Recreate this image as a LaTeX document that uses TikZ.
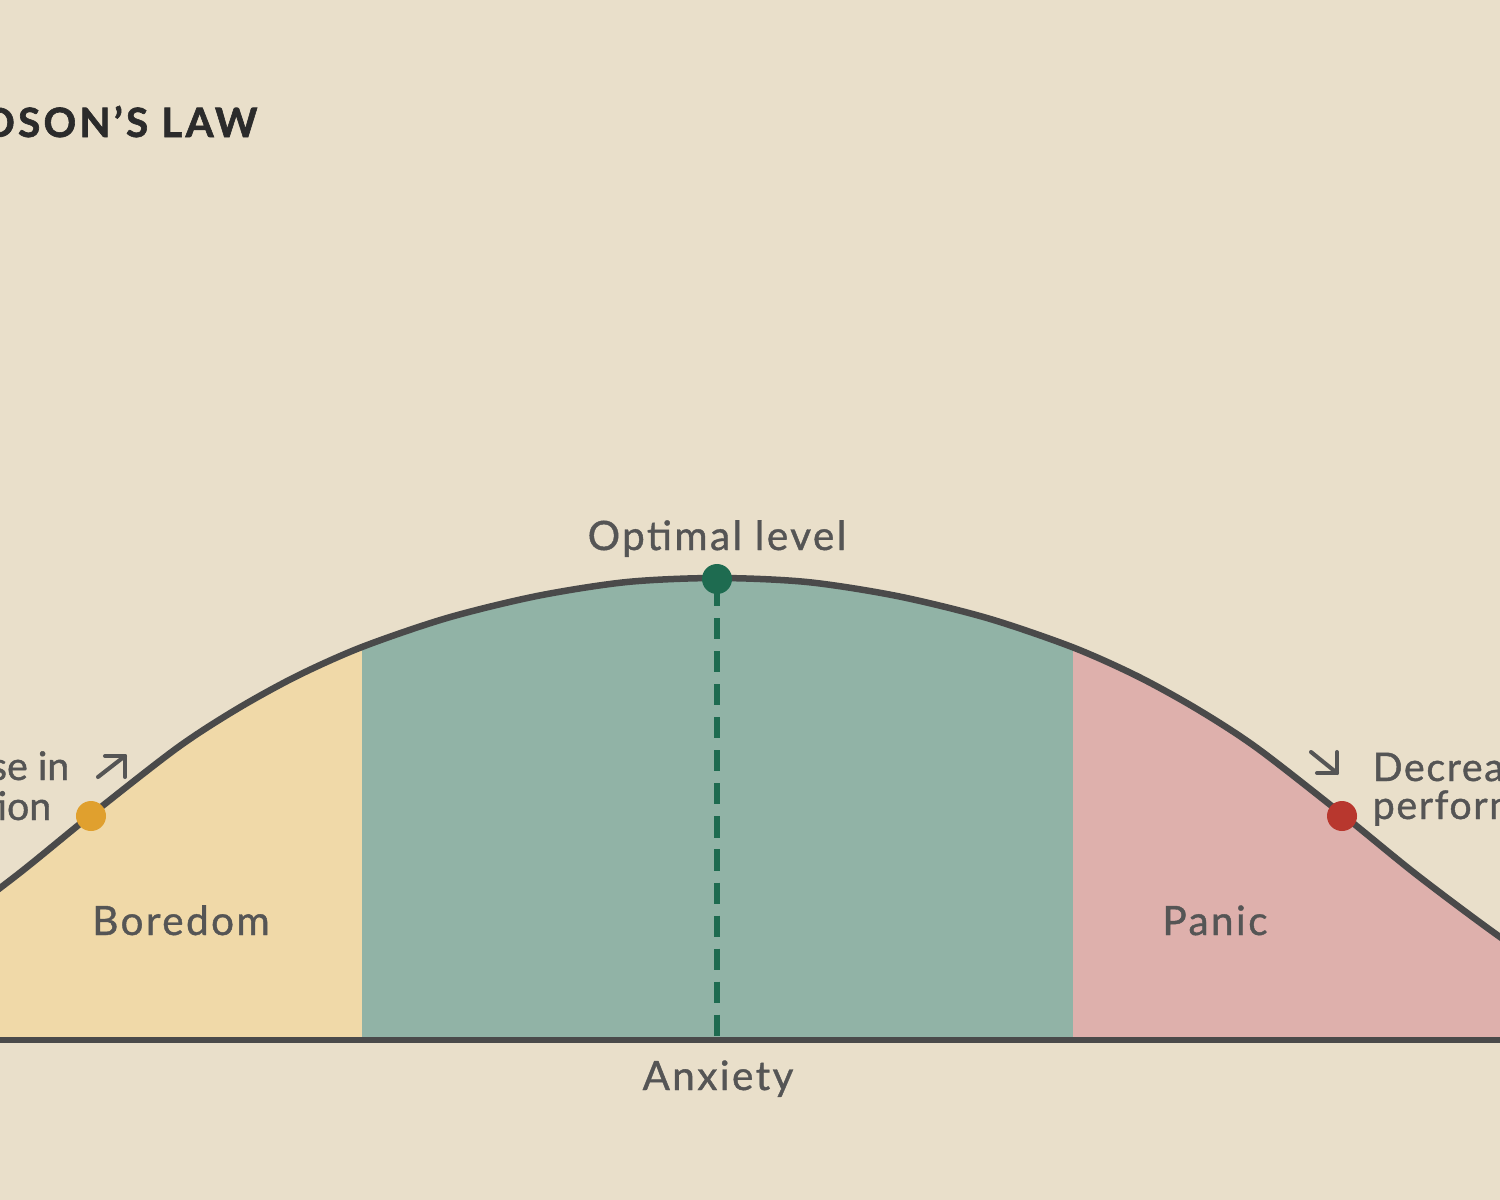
\documentclass[tikz,border=0pt]{standalone}
\usepackage{fontspec}
\setmainfont{Lato}
\newfontfamily\lblfont[LetterSpace=6, FakeBold=1]{Lato}
\newfontfamily\notefont[FakeBold=1]{Lato}
\newfontfamily\notewidefont[LetterSpace=4, FakeBold=1]{Lato}
\newfontfamily\headfont[LetterSpace=8, FakeBold=1.5]{Lato Bold}
\usetikzlibrary{positioning}

\definecolor{paper}{HTML}{E9DFCA}
\definecolor{boredfill}{HTML}{F0D9A8}
\definecolor{optfill}{HTML}{91B3A6}
\definecolor{panicfill}{HTML}{DEB0AC}
\definecolor{curvegray}{HTML}{4A4A4A}
\definecolor{lblgray}{HTML}{555555}
\definecolor{titleink}{HTML}{2B2B2B}
\definecolor{dotyellow}{HTML}{E0A02E}
\definecolor{dotred}{HTML}{B8372E}
\definecolor{dotgreen}{HTML}{1E6B50}

% performance curve, in pixel units
\tikzset{
  bellline/.style={insert path={plot[smooth] coordinates {(-143,989) (-66,937) (17,875)
    (91,815) (177,748) (237,709) (297,676) (362,647) (447,618) (537,596)
    (627,582) (717,578) (807,582) (897,596) (987,618) (1072,647) (1137,676)
    (1197,709) (1257,748) (1343,815) (1417,875) (1500,937) (1577,989)}}},
  bellarea/.style={insert path={plot[smooth] coordinates {(-200,1040) (-143,989) (-66,937) (17,875)
    (91,815) (177,748) (237,709) (297,676) (362,647) (447,618) (537,596)
    (627,582) (717,578) (807,582) (897,596) (987,618) (1072,647) (1137,676)
    (1197,709) (1257,748) (1343,815) (1417,875) (1500,937) (1577,989) (1640,1040)} -- cycle}}
}

\begin{document}
\begin{tikzpicture}[x=0.01cm, y=-0.01cm,
  curveline/.style={line width=1.85pt, draw=curvegray, line join=round},
  lbl/.style={font=\lblfont\fontsize{11.5}{14}\selectfont, text=lblgray,
              inner sep=0pt, anchor=base},
  note/.style={font=\notefont\fontsize{11.2}{14}\selectfont, text=lblgray,
               inner sep=0pt},
  dot/.style={circle, fill=#1, minimum size=0.3cm, inner sep=0pt},
  glyph/.style={line width=1.15pt, draw=lblgray, line cap=round, line join=round}
]
\fill[paper] (0,0) rectangle (1500,1200);
\clip (0,0) rectangle (1500,1200);

% zones under the curve
\begin{scope}
  \clip (-200,0) rectangle (362,1040);
  \fill[boredfill, bellarea];
\end{scope}
\begin{scope}
  \clip (362,0) rectangle (1073,1040);
  \fill[optfill, bellarea];
\end{scope}
\begin{scope}
  \clip (1073,0) rectangle (1700,1040);
  \fill[panicfill, bellarea];
\end{scope}

\draw[curveline, bellline];
\draw[curveline] (-20,1040) -- (1520,1040);

\node[dot=dotgreen] (peak) at (717,579) {};
\node[dot=dotyellow] (rise) at (91,816) {};
\node[dot=dotred] (fall) at (1342,816) {};
\coordinate (stemtop) at (717,585);
\coordinate (peakfoot) at (717,1037);
\draw[dotgreen, line width=1.9pt, dash pattern=on 6pt off 3.4pt] (stemtop) -- (peakfoot);

\node[lbl] (optimal) at (717,550) {Optimal level};
\node[lbl] (boredom) at (181,935) {Boredom};
\node[lbl] (panic) at (1215,935) {Panic};
\node[lbl] (anxiety) at (718,1090) {Anxiety};
\node[font=\headfont\fontsize{11.5}{13}\selectfont, text=titleink,
      inner sep=0pt, anchor=base east] (title) at (258,137) {YERKES-DODSON’S LAW};

% side notes
\node[note, anchor=base east] (incA) at (70,780) {Increase in};
\node[note, anchor=base east] (incB) at (52,820) {motivation};
\node[note, font=\notewidefont\fontsize{11.2}{14}\selectfont,
      anchor=base west] (decA) at (1372,781) {Decrease in};
\node[note, font=\notewidefont\fontsize{11.2}{14}\selectfont,
      anchor=base west] (decB) at (1372,819) {performance};

\coordinate (upT) at (98,777);
\coordinate (upH) at (125,756);
\draw[glyph] (upT) -- (upH);
\draw[glyph] (upH) ++(-20,0) -- (upH) -- ++(0,21);
\coordinate (dnT) at (1311,752);
\coordinate (dnH) at (1337,773);
\draw[glyph] (dnT) -- (dnH);
\draw[glyph] (dnH) ++(0,-21) -- (dnH) -- ++(-20,0);
\end{tikzpicture}
\end{document}
